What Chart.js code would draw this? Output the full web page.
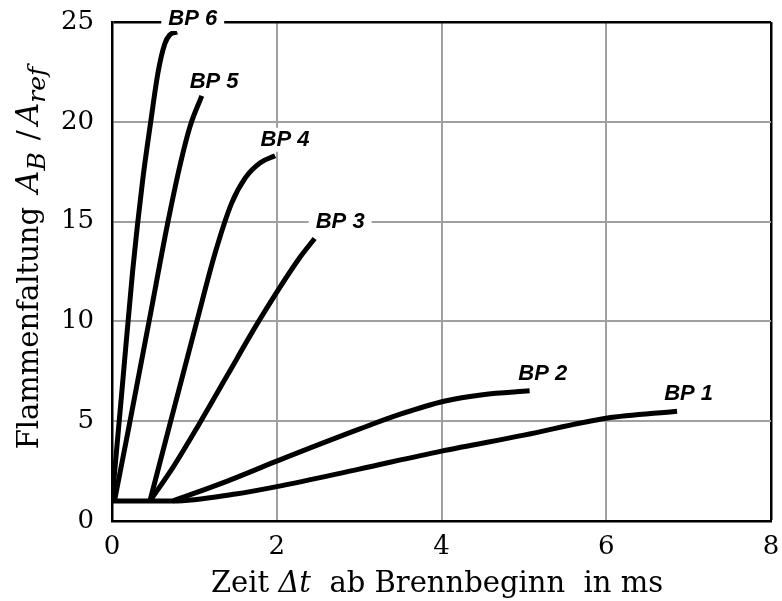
<!DOCTYPE html>
<html>
<head>
<meta charset="utf-8">
<script src="https://cdn.jsdelivr.net/npm/chart.js@4"></script>
<style>
  html, body { margin: 0; padding: 0; background: #fff; }
  #wrap { width: 782px; height: 601px; }
</style>
</head>
<body>
<div id="wrap"><canvas id="chart"></canvas></div>
<script>
// Values (x: ms, y: A_B / A_ref)
const bp1X = [0, 0.74, 1.5, 2.0, 3.0, 4.0, 5.0, 6.0, 6.86];
const bp1Y = [1, 1, 1.35, 1.72, 2.6, 3.5, 4.3, 5.15, 5.5];
const bp2X = [0.74, 1.4, 2.0, 3.0, 3.5, 4.03, 4.5, 5.07];
const bp2Y = [1, 2.0, 3.0, 4.6, 5.35, 6.0, 6.33, 6.52];
const bp3X = [0.46, 0.75, 1.05, 1.4, 1.78, 2.28, 2.46];
const bp3Y = [1, 2.75, 4.8, 7.3, 10, 13.2, 14.15];
const bp4X = [0.46, 0.7, 1.03, 1.25, 1.45, 1.62, 1.8, 1.98];
const bp4Y = [1, 4.8, 10, 13.4, 15.9, 17.2, 17.95, 18.3];
const bp5X = [0.03, 0.2, 0.45, 0.68, 0.83, 0.95, 1.09];
const bp5Y = [1, 4.6, 10, 15, 17.9, 19.8, 21.3];
const bp6X = [0, 0.12, 0.25, 0.37, 0.47, 0.56, 0.64, 0.7, 0.79];
const bp6Y = [1, 6.5, 12.5, 17.0, 20.0, 22.5, 23.9, 24.35, 24.5];

const seriesNames = ['BP 1', 'BP 2', 'BP 3', 'BP 4', 'BP 5', 'BP 6'];
const labelX = [7.0, 5.23, 2.77, 2.1, 1.24, 0.98];
const labelY = [6.39, 7.37, 15.0, 19.1, 22.0, 25.15];

const xTicks = [0, 2, 4, 6, 8];
const yTicks = [0, 5, 10, 15, 20, 25];

const SERIF = '"DejaVu Serif", "Liberation Serif", serif';

function toPoints(xs, ys) {
    return xs.map((x, i) => ({ x: x, y: ys[i] }));
}

const allSeries = [[bp1X, bp1Y], [bp2X, bp2Y], [bp3X, bp3Y], [bp4X, bp4Y], [bp5X, bp5Y], [bp6X, bp6Y]];

const datasets = allSeries.map(([xs, ys], i) => ({
    label: seriesNames[i],
    data: toPoints(xs, ys),
    borderColor: '#000',
    borderWidth: 5,
    borderCapStyle: 'butt',
    borderJoinStyle: 'round',
    pointRadius: 0,
    fill: false,
    cubicInterpolationMode: 'monotone'
}));

// draw a run of text pieces with mixed fonts, centred on (0,0) of current transform
function drawRich(ctx, pieces) {
    let total = 0;
    pieces.forEach(p => {
        ctx.font = p.font;
        p.w = ctx.measureText(p.text).width + (p.gap || 0);
        total += p.w;
    });
    let x = -total / 2;
    pieces.forEach(p => {
        ctx.font = p.font;
        ctx.fillText(p.text, x, p.dy || 0);
        x += p.w;
    });
}

const axisTitles = {
    id: 'axisTitles',
    afterDraw(chart) {
        const ctx = chart.ctx;
        ctx.save();
        ctx.fillStyle = '#000';
        ctx.textBaseline = 'alphabetic';
        ctx.textAlign = 'left';
        // x title
        ctx.save();
        ctx.translate(437, 592);
        drawRich(ctx, [
            { text: 'Zeit ', font: '29px ' + SERIF },
            { text: '\u0394t', font: 'italic 29px ' + SERIF },
            { text: '  ab Brennbeginn  in ms', font: '29px ' + SERIF }
        ]);
        ctx.restore();
        // y title
        ctx.save();
        ctx.translate(38, 258);
        ctx.rotate(-Math.PI / 2);
        drawRich(ctx, [
            { text: 'Flammenfaltung', font: '29px ' + SERIF, gap: 14 },
            { text: 'A', font: 'italic 31px ' + SERIF },
            { text: 'B', font: 'italic 25px ' + SERIF, dy: 7, gap: 12 },
            { text: '/', font: '30px ' + SERIF, gap: 5 },
            { text: 'A', font: 'italic 31px ' + SERIF },
            { text: 'ref', font: 'italic 25px ' + SERIF, dy: 7 }
        ]);
        ctx.restore();
        ctx.restore();
    }
};

const seriesLabels = {
    id: 'seriesLabels',
    afterDatasetsDraw(chart) {
        const ctx = chart.ctx;
        const xs = chart.scales.x, ys = chart.scales.y;
        ctx.save();
        ctx.font = 'italic bold 22px "Liberation Sans", Arial, sans-serif';
        ctx.textAlign = 'center';
        ctx.textBaseline = 'middle';
        seriesNames.forEach((name, i) => {
            const px = xs.getPixelForValue(labelX[i]);
            const py = ys.getPixelForValue(labelY[i]);
            const w = ctx.measureText(name).width + 14;
            ctx.fillStyle = '#fff';
            ctx.fillRect(px - w / 2, py - 12, w, 24);
            ctx.fillStyle = '#000';
            ctx.fillText(name, px, py);
        });
        ctx.restore();
    }
};

new Chart(document.getElementById('chart'), {
    type: 'line',
    data: { datasets: datasets },
    options: {
        responsive: true,
        maintainAspectRatio: false,
        animation: false,
        layout: { padding: { top: 22, right: 11, left: 0, bottom: 0 } },
        plugins: {
            legend: { display: false },
            tooltip: { enabled: false }
        },
        scales: {
            x: {
                type: 'linear',
                min: 0,
                max: 8,
                afterBuildTicks: scale => { scale.ticks = xTicks.map(v => ({ value: v })); },
                afterFit: scale => {
                    scale.height = 80;
                    scale.paddingLeft = 0;
                    scale.paddingRight = 0;
                },
                border: { color: '#000', width: 2.5 },
                grid: {
                    drawTicks: false,
                    color: c => c.tick && c.tick.value === 8 ? '#000' : '#a0a0a0',
                    lineWidth: c => c.tick && c.tick.value === 8 ? 2.5 : 2
                },
                ticks: {
                    padding: 11,
                    color: '#000',
                    font: { family: SERIF, size: 26 }
                }
            },
            y: {
                type: 'linear',
                min: 0,
                max: 25,
                afterBuildTicks: scale => { scale.ticks = yTicks.map(v => ({ value: v })); },
                afterFit: scale => {
                    scale.width = 112;
                    scale.paddingTop = 0;
                    scale.paddingBottom = 0;
                },
                border: { color: '#000', width: 2.5 },
                grid: {
                    drawTicks: false,
                    color: c => c.tick && c.tick.value === 25 ? '#000' : '#a0a0a0',
                    lineWidth: c => c.tick && c.tick.value === 25 ? 2.5 : 2
                },
                ticks: {
                    padding: 18,
                    color: '#000',
                    font: { family: SERIF, size: 26 }
                }
            }
        }
    },
    plugins: [axisTitles, seriesLabels]
});
</script>
</body>
</html>
